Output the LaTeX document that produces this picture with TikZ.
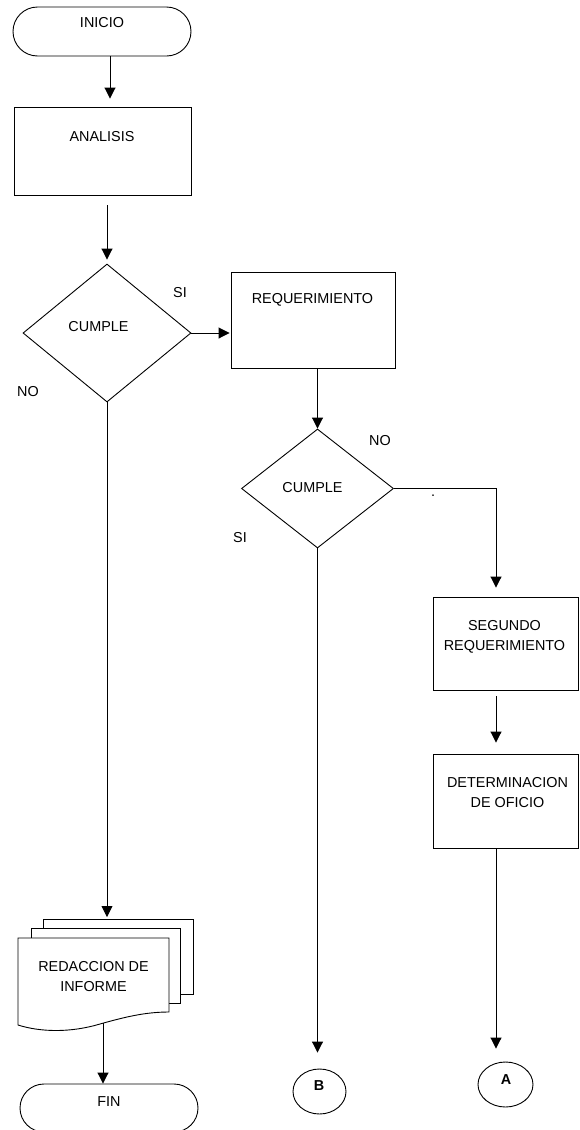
\documentclass[tikz,border=0pt]{standalone}
\usepackage{fontspec}
\setmainfont{Liberation Sans}
\usetikzlibrary{shapes.geometric,shapes.misc,arrows.meta}
\begin{document}
\begin{tikzpicture}[x=1pt,y=-1pt,
  line width=0.9pt,
  lbl/.style={font=\fontsize{14.4}{20}\selectfont, inner sep=0pt, align=center},
  boxnode/.style={draw, rectangle, inner sep=0pt},
  term/.style={draw, rounded rectangle, inner sep=0pt},
  dec/.style={draw, diamond, inner sep=0pt},
  conn/.style={draw, ellipse, inner sep=0pt},
  arr/.style={-{Triangle[width=11pt,length=11pt]}}]
\useasboundingbox (0,0) rectangle (580,1130);
\clip (0,0) rectangle (580,1130);

% shapes
\node[term, minimum width=178pt, minimum height=49pt] (inicio) at (102,31.5) {};
\node[boxnode, minimum width=177pt, minimum height=88pt] (analisis) at (102.5,151) {};
\node[dec, minimum width=168pt, minimum height=138pt] (d1) at (107,333) {};
\node[boxnode, minimum width=164pt, minimum height=96pt] (req) at (313,320) {};
\node[dec, minimum width=152pt, minimum height=119pt] (d2) at (317.5,488.5) {};
\node[boxnode, minimum width=145pt, minimum height=93pt] (seg) at (505.5,643.5) {};
\node[boxnode, minimum width=145pt, minimum height=94pt] (det) at (505.5,801) {};
\node[conn, minimum width=55pt, minimum height=45pt] (a) at (505.5,1084.5) {};
\node[conn, minimum width=53pt, minimum height=45pt] (b) at (319.5,1091.5) {};
\node[term, minimum width=178pt, minimum height=48pt] (fin) at (109,1108) {};

% multi-document
\draw[fill=white] (43,919) rectangle (193,994);
\draw[fill=white] (31,928) rectangle (180,1003);
\draw[fill=white] (18,938) -- (169,938) -- (169,1012)
  .. controls (145,1012) and (125,1017) .. (100,1024)
  .. controls (70,1033) and (40,1032) .. (18,1025) -- cycle;
\coordinate (doctop) at (107,919);
\coordinate (docbot) at (103,1023);

% texts
\node[lbl] (t-inicio) at (102,23) {INICIO};
\node[lbl] (t-analisis) at (102,137) {ANALISIS};
\node[lbl] (t-d1) at (98.5,327) {CUMPLE};
\node[lbl] (t-req) at (312.5,300) {REQUERIMIENTO};
\node[lbl] (t-d2) at (312.5,488) {CUMPLE};
\node[lbl] (t-seg) at (504.5,637) {SEGUNDO\\REQUERIMIENTO};
\node[lbl] (t-det) at (507.5,793) {DETERMINACION\\DE OFICIO};
\node[lbl] (t-doc) at (93.5,976.5) {REDACCION DE\\INFORME};
\node[lbl] (t-fin) at (109,1102) {FIN};
\node[lbl] (t-a) at (506,1080) {\bfseries A};
\node[lbl] (t-b) at (319,1086) {\bfseries B};
\node[lbl] (si1) at (180,293) {SI};
\node[lbl] (no1) at (28,392) {NO};
\node[lbl] (no2) at (380,441) {NO};
\node[lbl] (si2) at (240,538) {SI};
\node[lbl] (dot) at (433,496) {.};

% connectors
\coordinate (c1) at (496,488.5);
\draw[arr, shorten >=8pt] ([xshift=8pt]inicio.south) -- ([xshift=7.5pt]analisis.north);
\draw[arr, shorten <=10pt, shorten >=4pt] ([xshift=4.5pt]analisis.south) -- (d1.north);
\draw[arr, shorten >=1pt] (d1.east) -- (d1.east -| req.west);
\draw[arr] (req.south -| d2.north) -- (d2.north);
\draw[arr, shorten >=9pt] (d2.east) -- (c1) -- (c1 |- seg.north);
\draw[arr, shorten <=6pt, shorten >=11pt] (seg.south -| c1) -- (det.north -| c1);
\draw[arr, shorten >=13pt] (det.south -| c1) -- (a.north -| c1);
\draw[arr, shorten >=16pt] (d2.south) -- (d2.south |- b.north);
\draw[arr, shorten >=2pt] (d1.south) -- (doctop);
\draw[arr] (docbot) -- (docbot |- fin.north);
\end{tikzpicture}
\end{document}
